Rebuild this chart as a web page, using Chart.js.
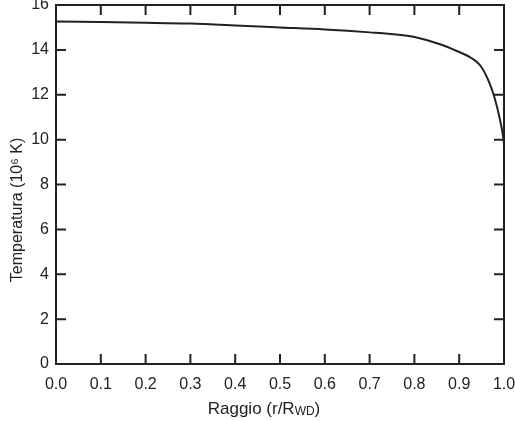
<!DOCTYPE html>
<html>
<head>
<meta charset="utf-8">
<script src="https://cdn.jsdelivr.net/npm/chart.js@4/dist/chart.umd.min.js"></script>
<style>
  html, body { margin:0; padding:0; background:#fff; }
  #wrap { width:515px; height:421px; }
</style>
</head>
<body>
<div id="wrap"><canvas id="chart"></canvas></div>
<script>
/* temperature profile of the white dwarf */
const radius = [0, 0.1, 0.2, 0.3, 0.4, 0.5, 0.6, 0.7, 0.77, 0.8, 0.859, 0.896, 0.926, 0.945, 0.956, 0.967, 0.978, 0.990, 0.999, 1.0];
const temperature = [15.27, 15.24, 15.21, 15.17, 15.09, 15.0, 14.91, 14.78, 14.66, 14.57, 14.24, 13.94, 13.65, 13.35, 13.02, 12.55, 11.93, 10.98, 10.0, 9.8];

const xTicks = [0, 0.1, 0.2, 0.3, 0.4, 0.5, 0.6, 0.7, 0.8, 0.9, 1.0];
const yTicks = [0, 2, 4, 6, 8, 10, 12, 14, 16];

const yTitle = 'Temperatura (10\u2076 K)';
const xTitleMain = 'Raggio (r/R';
const xTitleSub = 'WD';
const xTitleEnd = ')';

const FONT = '"Liberation Sans", Arial, sans-serif';
const INK = '#222';

// box + inward tick marks + axis titles
const frame = {
  id: 'frame',
  afterDraw(chart){
    const {ctx, chartArea: a, scales} = chart;
    const sx = scales.x, sy = scales.y;
    ctx.save();
    ctx.strokeStyle = INK;
    ctx.lineWidth = 2;
    ctx.strokeRect(a.left, a.top, a.right - a.left, a.bottom - a.top);
    const len = 10;
    ctx.beginPath();
    xTicks.slice(1, -1).forEach(v=>{
      const px = sx.getPixelForValue(v);
      ctx.moveTo(px, a.bottom); ctx.lineTo(px, a.bottom - len);
      ctx.moveTo(px, a.top); ctx.lineTo(px, a.top + len);
    });
    yTicks.slice(1, -1).forEach(v=>{
      const py = sy.getPixelForValue(v);
      ctx.moveTo(a.left, py); ctx.lineTo(a.left + len, py);
      ctx.moveTo(a.right, py); ctx.lineTo(a.right - len, py);
    });
    ctx.stroke();

    // y title
    ctx.fillStyle = INK;
    ctx.font = '16px ' + FONT;
    ctx.textAlign = 'center';
    ctx.textBaseline = 'middle';
    ctx.translate(18, 210);
    ctx.rotate(-Math.PI/2);
    ctx.fillText(yTitle, 0, 0);
    ctx.setTransform(1,0,0,1,0,0);

    // x title with subscript
    const big = '17px ' + FONT, small = '12px ' + FONT;
    ctx.font = big; const w1 = ctx.measureText(xTitleMain).width, w3 = ctx.measureText(xTitleEnd).width;
    ctx.font = small; const w2 = ctx.measureText(xTitleSub).width;
    let x = 264 - (w1 + w2 + w3)/2;
    const y = 409;
    ctx.textAlign = 'left';
    ctx.textBaseline = 'alphabetic';
    ctx.font = big; ctx.fillText(xTitleMain, x, y + 5); x += w1;
    ctx.font = small; ctx.fillText(xTitleSub, x, y + 6); x += w2;
    ctx.font = big; ctx.fillText(xTitleEnd, x, y + 5);
    ctx.restore();
  }
};

new Chart(document.getElementById('chart'), {
  type: 'scatter',
  data: {
    datasets: [{
      data: radius.map((r,i)=>({x:r, y:temperature[i]})),
      showLine: true,
      borderColor: INK,
      borderWidth: 2,
      pointRadius: 0,
      cubicInterpolationMode: 'monotone',
      fill: false
    }]
  },
  options: {
    responsive: true,
    maintainAspectRatio: false,
    animation: false,
    layout: { padding: { top: 5, right: 11, left: 0, bottom: 0 } },
    plugins: { legend: { display:false }, tooltip: { enabled:false } },
    scales: {
      x: {
        type: 'linear', min: 0, max: 1,
        afterBuildTicks: s => { s.ticks = xTicks.map(v=>({value:v})); },
        afterFit: s => { s.height = 57; s.paddingLeft = 0; s.paddingRight = 0; },
        grid: { display:false },
        border: { display:false },
        ticks: { color: INK, font: { family: FONT, size: 16 }, padding: 3, maxRotation: 0,
                 callback: v => Number(v).toFixed(1) }
      },
      y: {
        type: 'linear', min: 0, max: 16,
        afterBuildTicks: s => { s.ticks = yTicks.map(v=>({value:v})); },
        afterFit: s => { s.width = 56; s.paddingTop = 0; s.paddingBottom = 0; },
        grid: { display:false },
        border: { display:false },
        ticks: { color: INK, font: { family: FONT, size: 16 }, padding: -1 }
      }
    }
  },
  plugins: [frame]
});
</script>
</body>
</html>
